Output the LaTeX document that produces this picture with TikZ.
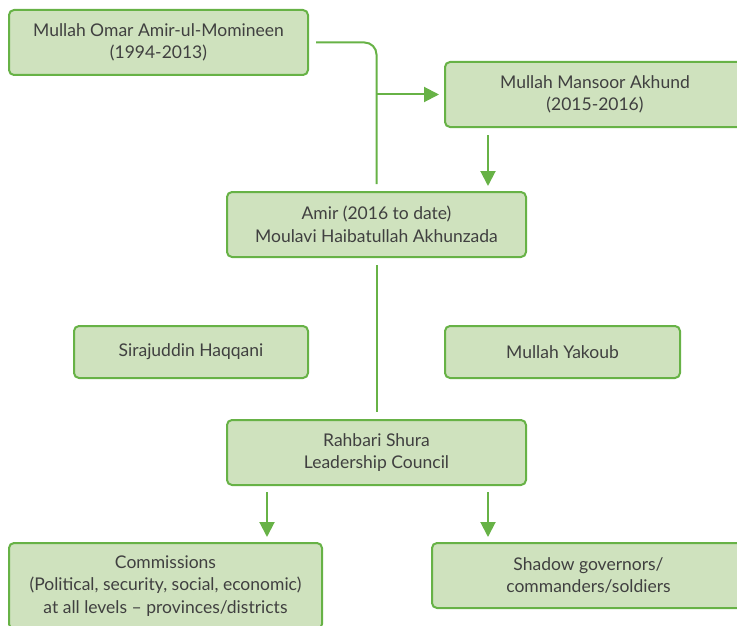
\documentclass[tikz,border=0pt]{standalone}
\usepackage{fontspec}
\setmainfont{Lato}
\usetikzlibrary{arrows.meta,calc}
\definecolor{gline}{HTML}{67B246}
\definecolor{gfill}{HTML}{CFE2BE}
\definecolor{gtext}{HTML}{404040}
\tikzset{
  box/.style={draw=gline, fill=gfill, line width=2pt, rounded corners=5pt, inner sep=0pt,
    align=center, text=gtext, font=\fontsize{17.5}{22.5}\selectfont},
  conn/.style={draw=gline, line width=2pt},
  arr/.style={conn, -{Triangle[width=15pt,length=15pt]}},
}
\begin{document}
\begin{tikzpicture}[x=1pt,y=-1pt]
\useasboundingbox (0,0) rectangle (737,626);
\node[box, minimum width=299pt, minimum height=65pt] (omar) at (158.5,42.5) {Mullah Omar Amir-ul-Momineen\\(1994-2013)};
\node[box, minimum width=300pt, minimum height=65pt] (mansoor) at (595,94.5) {Mullah Mansoor Akhund\\(2015-2016)};
\node[box, minimum width=299pt, minimum height=65pt] (amir) at (376.5,224.5) {Amir (2016 to date)\\Moulavi Haibatullah Akhunzada};
\node[box, minimum width=234pt, minimum height=52pt] (siraj) at (191,352) {Sirajuddin Haqqani};
\node[box, minimum width=235pt, minimum height=52pt] (yakoub) at (562.5,352) {Mullah Yakoub};
\node[box, minimum width=299pt, minimum height=65pt] (rahbari) at (376.5,452.5) {Rahbari Shura\\Leadership Council};
\node[box, minimum width=313pt, minimum height=86pt] (comm) at (165.5,586) {Commissions\\(Political, security, social, economic)\\at all levels -- provinces/districts};
\node[box, minimum width=313pt, minimum height=65pt] (shadow) at (588.5,575.5) {Shadow governors/\\commanders/soldiers};
\coordinate (mx) at (488,0);
\coordinate (cx) at (267,0);
\draw[conn, rounded corners=12pt] ([xshift=7pt]omar.east) -| ([yshift=7pt]amir.north);
\draw[arr] (amir.north |- mansoor.west) -- ([xshift=-5pt]mansoor.west);
\draw[arr] ([yshift=-7pt]mansoor.south -| mx) -- ([yshift=5pt]amir.north -| mx);
\draw[conn] ([yshift=-7pt]amir.south) -- ([yshift=7pt]rahbari.north);
\draw[arr] ([yshift=-6pt]rahbari.south -| cx) -- ([yshift=5pt]comm.north -| cx);
\draw[arr] ([yshift=-6pt]rahbari.south -| mx) -- ([yshift=5pt]shadow.north -| mx);
\end{tikzpicture}
\end{document}
